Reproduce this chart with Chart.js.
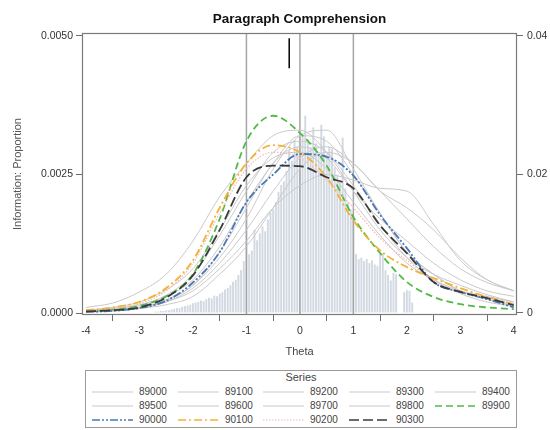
<!DOCTYPE html>
<html><head><meta charset="utf-8">
<script src="https://cdn.jsdelivr.net/npm/chart.js@4.4.1/dist/chart.umd.min.js"></script>
<style>
html,body{margin:0;padding:0;background:#fff;}
#wrap{position:relative;width:550px;height:430px;font-family:"Liberation Sans",Arial,sans-serif;}
#c{position:absolute;left:0;top:0;}
#legend{position:absolute;left:85px;top:370px;width:432px;height:58px;border:1px solid #9a9a9a;box-sizing:border-box;}
#legend .ttl{position:absolute;left:0;width:100%;text-align:center;top:0;height:13px;line-height:13px;font-size:11px;color:#444;}
#legend .it{position:absolute;height:12px;}
#legend .it svg{position:absolute;left:0;top:4px;}
#legend .it span{position:absolute;left:47px;top:0;line-height:12px;font-size:10px;color:#444;white-space:nowrap;}
</style></head>
<body><div id="wrap"><canvas id="c" width="550" height="365"></canvas><div id="legend"></div></div>
<script>
// ---- data ----
const theta = [-4,-3.5,-3,-2.5,-2,-1.5,-1,-0.5,0,0.5,1,1.5,2,2.5,3,3.5,4];
const seriesNames = ['89000','89100','89200','89300','89400','89500','89600','89700','89800','89900','90000','90100','90200','90300'];
const s89000 = [0.0001,0.00018,0.00038,0.0007,0.0013,0.0021,0.0027,0.0032,0.0033,0.0029,0.0022,0.0015,0.001,0.0007,0.0005,0.00033,0.0002];
const s89100 = [0.00002,0.00004,0.00008,0.0002,0.0004,0.0008,0.0013,0.0019,0.0023,0.0025,0.0024,0.00225,0.0022,0.0016,0.00095,0.0006,0.0004];
const s89200 = [0.00002,0.00004,0.0001,0.00022,0.0005,0.001,0.0017,0.0026,0.0032,0.0033,0.0026,0.0018,0.0011,0.0007,0.0004,0.00025,0.00012];
const s89300 = [0.00002,0.00004,0.0001,0.0002,0.00045,0.0009,0.0015,0.0022,0.0028,0.003,0.0027,0.0022,0.0017,0.0012,0.0008,0.00055,0.0004];
const s89400 = [0.00004,0.00008,0.00015,0.00032,0.0007,0.0014,0.0022,0.0029,0.0031,0.0029,0.0023,0.0016,0.001,0.0006,0.00035,0.0002,0.00012];
const s89500 = [0.00003,0.00005,0.0001,0.00024,0.0005,0.0011,0.0019,0.0027,0.003,0.0028,0.0022,0.0017,0.0013,0.0009,0.0006,0.0004,0.0003];
const s89600 = [0.00005,0.0001,0.0002,0.00042,0.0008,0.0015,0.0023,0.0028,0.0029,0.0026,0.002,0.0014,0.0009,0.0006,0.0004,0.0003,0.0002];
const s89700 = [0.00002,0.00003,0.00008,0.00015,0.0003,0.0007,0.0012,0.0019,0.0026,0.0029,0.0027,0.0022,0.0019,0.0015,0.001,0.0006,0.0004];
const s89800 = [0.00004,0.00007,0.00013,0.0003,0.0006,0.0012,0.002,0.0027,0.0032,0.0031,0.0025,0.0018,0.0011,0.0007,0.0004,0.00025,0.00015];
const s89900 = [0.00003,0.00006,0.00013,0.0003,0.0007,0.0017,0.0031,0.00356,0.00325,0.00266,0.00173,0.00108,0.00056,0.00029,0.00016,0.0001,0.00007];
const s90000 = [0.00002,0.00004,0.00009,0.00022,0.00055,0.0011,0.002,0.0025,0.00287,0.00282,0.00248,0.00177,0.00117,0.00056,0.00038,0.00025,0.0001];
const s90100 = [0.00005,0.0001,0.0002,0.00045,0.00095,0.0019,0.0027,0.00303,0.0029,0.00245,0.00167,0.00113,0.00083,0.00063,0.00045,0.00029,0.00016];
const s90200 = [0.00004,0.00008,0.00017,0.0004,0.0009,0.0018,0.0026,0.0029,0.0028,0.0024,0.0019,0.00135,0.00095,0.0006,0.0004,0.00027,0.00017];
const s90300 = [0.00003,0.00005,0.0001,0.00028,0.00068,0.0015,0.00245,0.00266,0.00265,0.00245,0.00225,0.00158,0.00108,0.00056,0.00038,0.00027,0.00014];
const seriesValues = [s89000,s89100,s89200,s89300,s89400,s89500,s89600,s89700,s89800,s89900,s90000,s90100,s90200,s90300];

const histTheta = [-2.70,-2.65,-2.60,-2.55,-2.50,-2.45,-2.40,-2.35,-2.30,-2.25,
-2.20,-2.15,-2.10,-2.05,-2.00,-1.95,-1.90,-1.85,-1.80,-1.75,
-1.70,-1.65,-1.60,-1.55,-1.50,-1.45,-1.40,-1.35,-1.30,-1.25,
-1.20,-1.15,-1.10,-1.05,-1.00,-0.95,-0.90,-0.85,-0.80,-0.75,
-0.70,-0.65,-0.60,-0.55,-0.50,-0.45,-0.40,-0.35,-0.30,-0.25,
-0.20,-0.15,-0.10,-0.05,0.00,0.05,0.10,0.15,0.20,0.25,
0.30,0.35,0.40,0.45,0.50,0.55,0.60,0.65,0.70,0.75,
0.80,0.85,0.90,0.95,1.00,1.05,1.10,1.15,1.20,1.25,
1.30,1.35,1.40,1.45,1.50,1.55,1.60,1.65,1.70,1.75,
1.80,1.85,1.90,1.95,2.00,2.05,2.10];
const histProp = [0.0002,0.0002,0.0003,0.0003,0.0004,0.0004,0.0005,0.0006,0.0007,0.0007,
0.0009,0.0010,0.0011,0.0012,0.0014,0.0015,0.0016,0.0018,0.0017,0.0020,
0.0022,0.0021,0.0025,0.0024,0.0028,0.0030,0.0034,0.0036,0.0040,0.0045,
0.0048,0.0055,0.0062,0.0075,0.0150,0.0085,0.0090,0.0120,0.0105,0.0115,
0.0125,0.0118,0.0135,0.0145,0.0150,0.0160,0.0175,0.0185,0.0190,0.0205,
0.0235,0.0220,0.0250,0.0240,0.0260,0.0255,0.0285,0.0250,0.0240,0.0268,
0.0245,0.0230,0.0272,0.0255,0.0230,0.0240,0.0237,0.0210,0.0200,0.0190,
0.0253,0.0180,0.0160,0.0150,0.0140,0.0085,0.0078,0.0080,0.0075,0.0078,
0.0072,0.0076,0.0070,0.0068,0.0085,0.0086,0.0062,0.0055,0.0047,0.0058,
0.0056,0,0,0.0030,0.0033,0.0032,0.0015];

const refTheta = [-1, 0, 1];
const markTheta = -0.2;
const markRange = [0.00442, 0.00496];
const xTicks = [-4,-3,-2,-1,0,1,2,3,4];
const yTicks = [0, 0.0025, 0.005];
const y1Ticks = [0, 0.02, 0.04];
const y1Labels = ['0','0.02','0.04'];
const xRange = [-4.075, 4.06];
const yRange = [-0.000036, 0.005054];
const y1Range = [-0.00029, 0.04043];

// ---- styles ----
const GRAY = '#c9c9c9';
const styles = {
  '89900': {color:'#52b947', dash:[7,4], width:1.8},
  '90000': {color:'#4a78b5', dash:[8,2,2,2,2,2], width:1.8},
  '90100': {color:'#f4b233', dash:[8,3,2,3], width:1.8},
  '90200': {color:'#f2b9b9', dash:[1.5,1.5], width:1.2},
  '90300': {color:'#3a3a3a', dash:[10,4], width:1.8}
};
function styleOf(n){ return styles[n] || {color:GRAY, dash:[], width:1}; }

const datasets = [];
datasets.push({type:'bar', label:'hist', yAxisID:'y1', xAxisID:'x',
  data: histTheta.map((x,i)=>({x:x, y:histProp[i]})),
  backgroundColor:'#d2d9e2', borderWidth:0, barPercentage:0.72, categoryPercentage:1, grouped:false, order:100});
refTheta.forEach(r=>datasets.push({type:'line', label:'ref', yAxisID:'y',
  data:[{x:r,y:yRange[0]},{x:r,y:yRange[1]}], borderColor:'#a5a5a5', borderWidth:1.5, pointRadius:0, order:50}));
datasets.push({type:'line', label:'mark', yAxisID:'y',
  data:[{x:markTheta,y:markRange[0]},{x:markTheta,y:markRange[1]}], borderColor:'#000', borderWidth:1.5, pointRadius:0, order:0});
seriesNames.forEach((n,i)=>{
  const st = styleOf(n);
  datasets.push({type:'line', label:n, yAxisID:'y',
    data: theta.map((t,j)=>({x:t, y:seriesValues[i][j]})),
    borderColor:st.color, borderDash:st.dash, borderWidth:st.width, pointRadius:0,
    cubicInterpolationMode:'monotone', fill:false, order: styles[n] ? (20 - i) : 30});
});

const framePlugin = {
  id:'frame',
  afterLayout(chart){
    const t = chart.titleBlock;
    if (t){ t.left = chart.chartArea.left; t.right = chart.chartArea.right; t.width = t.right - t.left; }
  },
  afterDraw(chart){
    const {ctx, chartArea:a} = chart;
    ctx.save(); ctx.strokeStyle = '#7a7a7a'; ctx.lineWidth = 1.2;
    ctx.strokeRect(a.left+0.5, a.top+0.5, a.right-a.left-1, a.bottom-a.top-1);
    ctx.restore();
  }
};

Chart.defaults.font.family = '"Liberation Sans", Arial, sans-serif';
new Chart(document.getElementById('c'), {
  type:'line',
  data:{datasets},
  options:{
    responsive:false, animation:false, devicePixelRatio:1,
    layout:{padding:0},
    plugins:{
      legend:{display:false}, tooltip:{enabled:false},
      title:{display:true, text:'Paragraph Comprehension', color:'#111',
        font:{size:13.5, weight:'bold'}, padding:{top:11.2, bottom:5.6}}
    },
    scales:{
      x:{type:'linear', min:xRange[0], max:xRange[1], offset:false,
        afterBuildTicks:s=>{ s.ticks = xTicks.map(v=>({value:v})); },
        afterFit:s=>{ s.height = 50; },
        grid:{drawOnChartArea:false, drawTicks:true, tickLength:6, color:'#6d6d6d'},
        border:{display:false},
        ticks:{font:{size:10.5}, color:'#333', padding:4, maxRotation:0, autoSkip:false, callback:v=>String(v)},
        title:{display:true, text:'Theta', font:{size:11}, color:'#444', padding:{top:0, bottom:6.4}}
      },
      y:{type:'linear', position:'left', min:yRange[0], max:yRange[1],
        afterBuildTicks:s=>{ s.ticks = yTicks.map(v=>({value:v})); },
        afterFit:s=>{ s.width = 82; },
        grid:{drawOnChartArea:false, drawTicks:true, tickLength:6, color:'#6d6d6d'},
        border:{display:false},
        ticks:{font:{size:10.5}, color:'#333', padding:3, callback:v=>Number(v).toFixed(4)},
        title:{display:true, text:'Information: Proportion', font:{size:11}, color:'#555', padding:{top:11.4, bottom:0}}
      },
      y1:{type:'linear', position:'right', min:y1Range[0], max:y1Range[1],
        afterBuildTicks:s=>{ s.ticks = y1Ticks.map(v=>({value:v})); },
        afterFit:s=>{ s.width = 33; },
        grid:{drawOnChartArea:false, drawTicks:true, tickLength:6, color:'#6d6d6d'},
        border:{display:false},
        ticks:{font:{size:10.5}, color:'#333', padding:4, callback:(v,i)=>y1Labels[i]}
      }
    }
  },
  plugins:[framePlugin]
});

// ---- legend (HTML) ----
const leg = document.getElementById('legend');
const ttl = document.createElement('div'); ttl.className='ttl'; ttl.textContent='Series'; leg.appendChild(ttl);
const colX = [6, 92, 177, 263, 349];
const rowY = [15, 29, 43];
seriesNames.forEach((n,i)=>{
  const st = styleOf(n);
  const it = document.createElement('div'); it.className='it';
  it.style.left = colX[i%5]+'px'; it.style.top = rowY[Math.floor(i/5)]+'px';
  const dash = st.dash.length ? st.dash.join(',') : 'none';
  it.innerHTML = '<svg width="41" height="4"><line x1="0" y1="2" x2="41" y2="2" stroke="'+st.color+'" stroke-width="'+Math.min(st.width,1.6)+'" stroke-dasharray="'+dash+'"/></svg><span>'+n+'</span>';
  leg.appendChild(it);
});
</script>
</body></html>
